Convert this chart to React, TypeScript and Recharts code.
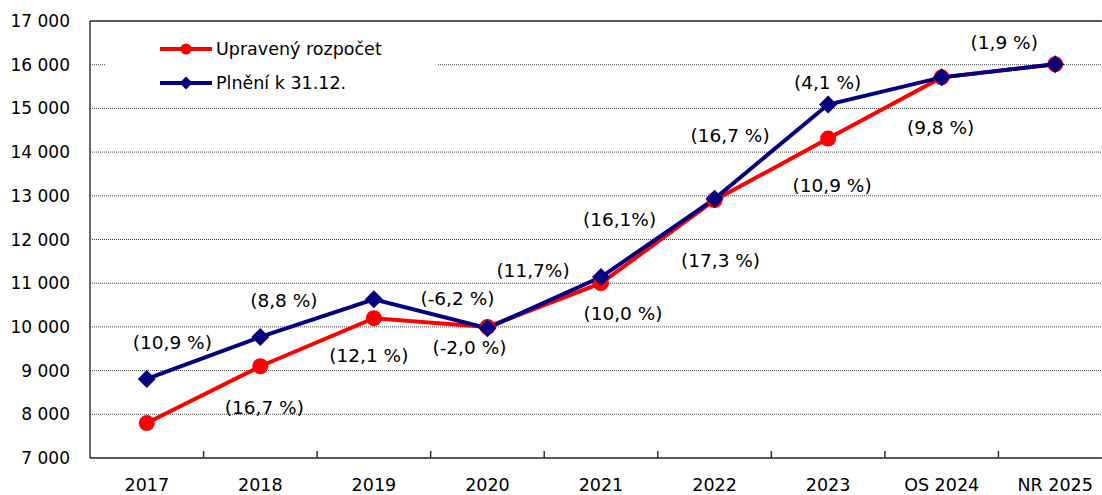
import React from 'react';
import { LineChart, Line, XAxis, YAxis, CartesianGrid, ReferenceLine, LabelList } from 'recharts';

// categories and values
const categories = ['2017', '2018', '2019', '2020', '2021', '2022', '2023', 'OS 2024', 'NR 2025'];
const upraveny = [7800, 9100, 10200, 10000, 11000, 12900, 14310, 15710, 16010];
const plneni = [8810, 9770, 10630, 9970, 11140, 12930, 15090, 15710, 16010];

// year-on-year growth labels (attached to the later year)
const upravenyGrowth = ['', '(16,7 %)', '(12,1 %)', '(-2,0 %)', '(10,0 %)', '(17,3 %)', '(10,9 %)', '(9,8 %)', ''];
const plneniGrowth = ['', '(10,9 %)', '(8,8 %)', '(-6,2 %)', '(11,7%)', '(16,1%)', '(16,7 %)', '(4,1 %)', '(1,9 %)'];

const yTicks = [7000, 8000, 9000, 10000, 11000, 12000, 13000, 14000, 15000, 16000, 17000];

// label placement relative to its point (px)
const upravenyLabelShift = [[0, 0], [4, 41], [-5, 37], [-18, 21], [22, 30], [6, 60], [4, 47], [-1, 50], [0, 0]];
const plneniLabelShift = [[0, 0], [-88, 6], [-90, 1], [-30, -30], [-68, -7], [-95, 21], [-98, 31], [-114, 5], [-51, -22]];

const RED = '#ff0000';
const NAVY = '#000080';
const AXIS = '#333333';
const FONT = '"DejaVu Sans", Verdana, sans-serif';

const data = categories.map((year, i) => ({
  year,
  upraveny: upraveny[i],
  plneni: plneni[i],
  gU: upravenyGrowth[i],
  gP: plneniGrowth[i],
}));

const fmtThousands = (v: number) => `${Math.floor(v / 1000)} ${String(v % 1000).padStart(3, '0')}`;

const XTick = (props: any) => {
  const { x, y, payload, index } = props;
  const half = payload?.offset ?? 0;
  return (
    <g>
      {index > 0 && half > 0 && (
        <line x1={x - half} x2={x - half} y1={y} y2={y - 7} stroke={AXIS} strokeWidth={1.5} />
      )}
      <text x={x} y={y + 27} textAnchor="middle" dominantBaseline="central" fontFamily={FONT} fontSize={17.5} fill="#000">
        {payload.value}
      </text>
    </g>
  );
};

const CircleDot = (props: any) => {
  const { cx, cy } = props;
  if (cx == null || cy == null) return null;
  return <circle cx={cx} cy={cy} r={8} fill={RED} />;
};

const DiamondDot = (props: any) => {
  const { cx, cy } = props;
  if (cx == null || cy == null) return null;
  const s = 9;
  return <polygon points={`${cx},${cy - s} ${cx + s},${cy} ${cx},${cy + s} ${cx - s},${cy}`} fill={NAVY} />;
};

const makeGrowthLabel = (labels: string[], shifts: number[][]) => (props: any) => {
  const { x, y, value } = props;
  let idx = props.index;
  if (idx == null) idx = labels.indexOf(value);
  if (!value || idx == null || idx < 0) return null;
  const [dx, dy] = shifts[idx];
  return (
    <text
      x={x + dx}
      y={y + dy}
      textAnchor="middle"
      dominantBaseline="central"
      fontFamily={FONT}
      fontSize={18.5}
      fill="#000"
    >
      {value}
    </text>
  );
};

function LegendBox() {
  return (
    <div style={{ position: 'absolute', left: 105, top: 29, width: 332, height: 72, background: '#fff' }}>
      <svg width={332} height={72}>
        <line x1={55} x2={107} y1={20} y2={20} stroke={RED} strokeWidth={4} />
        <circle cx={81} cy={20} r={5.5} fill={RED} />
        <text x={111} y={20} dominantBaseline="central" fontFamily={FONT} fontSize={17.5} fill="#000">
          Upravený rozpočet
        </text>
        <line x1={55} x2={107} y1={54} y2={54} stroke={NAVY} strokeWidth={4} />
        <polygon points="81,47.5 87.5,54 81,60.5 74.5,54" fill={NAVY} />
        <text x={111} y={54} dominantBaseline="central" fontFamily={FONT} fontSize={17.5} fill="#000">
          Plnění k 31.12.
        </text>
      </svg>
    </div>
  );
}

export default function App() {
  return (
    <div style={{ position: 'fixed', left: 0, top: 0, width: 1102, height: 495, overflow: 'hidden', background: '#fff' }}>
      <LineChart width={1112} height={495} data={data} margin={{ top: 21, right: 0, left: 0, bottom: 7 }}>
        <CartesianGrid vertical={false} stroke="#444" strokeDasharray="1 1" />
        <ReferenceLine y={17000} stroke={AXIS} strokeWidth={1.5} />
        <XAxis
          dataKey="year"
          scale="band"
          height={30}
          tickLine={false}
          tickSize={0}
          tickMargin={0}
          axisLine={{ stroke: AXIS, strokeWidth: 1.5 }}
          tick={<XTick />}
          interval={0}
        />
        <YAxis
          width={90}
          domain={[7000, 17000]}
          ticks={yTicks}
          interval={0}
          tickFormatter={fmtThousands}
          tickLine={false}
          tickSize={0}
          tickMargin={20}
          axisLine={{ stroke: AXIS, strokeWidth: 1.5 }}
          tick={{ fontFamily: FONT, fontSize: 17, fill: '#000' }}
        />
        <Line
          type="linear"
          dataKey="upraveny"
          stroke={RED}
          strokeWidth={4}
          dot={<CircleDot />}
          activeDot={false}
          isAnimationActive={false}
        >
          <LabelList dataKey="gU" content={makeGrowthLabel(upravenyGrowth, upravenyLabelShift)} />
        </Line>
        <Line
          type="linear"
          dataKey="plneni"
          stroke={NAVY}
          strokeWidth={4}
          dot={<DiamondDot />}
          activeDot={false}
          isAnimationActive={false}
        >
          <LabelList dataKey="gP" content={makeGrowthLabel(plneniGrowth, plneniLabelShift)} />
        </Line>
      </LineChart>
      <LegendBox />
    </div>
  );
}
